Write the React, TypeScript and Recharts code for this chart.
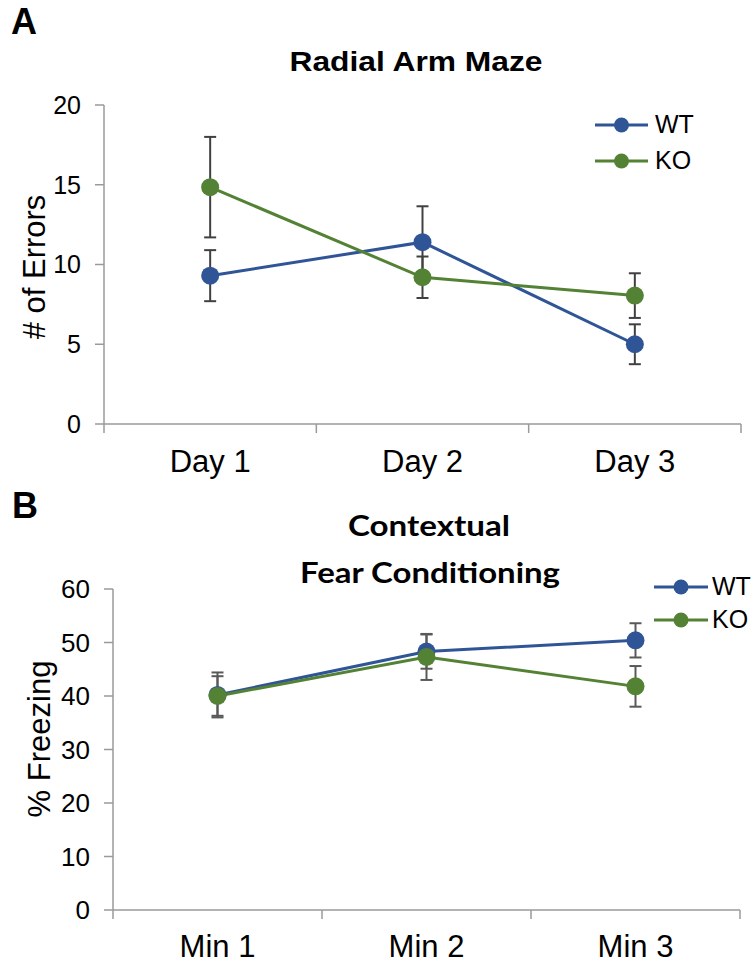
import React from 'react';
import { LineChart, Line, XAxis, YAxis, ErrorBar, Legend } from 'recharts';

// Radial arm maze: errors per day
const days = ['Day 1', 'Day 2', 'Day 3'];
const mazeWT = [9.3, 11.4, 5.0];
const mazeWTErr = [1.6, 2.25, 1.25];
const mazeKO = [14.85, 9.2, 8.05];
const mazeKOErr = [3.15, 1.3, 1.4];
const mazeTicks = [0, 5, 10, 15, 20];

// Contextual fear conditioning: % freezing per minute
const minutes = ['Min 1', 'Min 2', 'Min 3'];
const fearWT = [40.2, 48.3, 50.4];
const fearWTErr = [4.2, 3.2, 3.2];
const fearKO = [40.0, 47.3, 41.8];
const fearKOErr = [3.7, 4.3, 3.8];
const fearTicks = [0, 10, 20, 30, 40, 50, 60];

const seriesNames = ['WT', 'KO'];

const WT_COLOR = '#2F5597';
const KO_COLOR = '#548235';
const AXIS_COLOR = '#9a9a9a';
const FONT = '"Liberation Sans", Arial, sans-serif';
const TITLE_FONT_B = 'Lato, "Open Sans", sans-serif';

type Row = { pos: number; wt: number; wtErr: number; ko: number; koErr: number };

// Each category occupies one unit on a numeric axis; points sit at the middle.
function buildRows(cats: string[], wt: number[], wtErr: number[], ko: number[], koErr: number[]): Row[] {
  return cats.map((_, i) => ({ pos: i + 0.5, wt: wt[i], wtErr: wtErr[i], ko: ko[i], koErr: koErr[i] }));
}

// Boundary ticks (integers) carry tick marks, centre ticks (halves) carry the category names.
function categoryTicks(cats: string[]): number[] {
  const out: number[] = [];
  cats.forEach((_, i) => {
    out.push(i, i + 0.5);
  });
  out.push(cats.length);
  return out;
}

function makeCategoryTick(cats: string[], tickSize: number, tickMargin: number, fontSize: number) {
  return (props: any) => {
    const { x, y, payload } = props;
    const v = payload.value as number;
    if (Number.isInteger(v)) {
      const y0 = y - tickMargin - tickSize;
      return (
        <g>
          <line x1={x} x2={x} y1={y0} y2={y0 + tickSize} stroke={AXIS_COLOR} strokeWidth={1.5} />
        </g>
      );
    }
    return (
      <g>
        <text x={x} y={y} dy="0.71em" textAnchor="middle" fontSize={fontSize} fontFamily={FONT} fill="#000">
          {cats[Math.floor(v)]}
        </text>
      </g>
    );
  };
}

type LegendGeom = {
  left: number;
  top: number;
  lineX1: number;
  lineX2: number;
  rowY: number[];
  textX: number;
  textDy: number;
  r: number;
  fontSize: number;
};

function makeLegend(g: LegendGeom) {
  const colors = [WT_COLOR, KO_COLOR];
  return () => (
    <svg width={150} height={80} style={{ display: 'block', overflow: 'visible' }}>
      {seriesNames.map((name, i) => (
        <g key={name}>
          <line x1={g.lineX1} x2={g.lineX2} y1={g.rowY[i]} y2={g.rowY[i]} stroke={colors[i]} strokeWidth={3} />
          <circle cx={(g.lineX1 + g.lineX2) / 2} cy={g.rowY[i]} r={g.r} fill={colors[i]} />
          <text x={g.textX} y={g.rowY[i] + g.textDy} fontSize={g.fontSize} fontFamily={FONT} fill="#000">
            {name}
          </text>
        </g>
      ))}
    </svg>
  );
}

type PanelProps = {
  height: number;
  cats: string[];
  rows: Row[];
  yMax: number;
  yTicks: number[];
  margin: { top: number; right: number; bottom: number; left: number };
  yTickFont: number;
  xTickFont: number;
  xTickMargin: number;
  errColor: string;
  legend: LegendGeom;
};

function Panel(p: PanelProps) {
  const tickSize = 9;
  return (
    <LineChart width={756} height={p.height} data={p.rows} margin={p.margin}>
      <XAxis
        dataKey="pos"
        type="number"
        domain={[0, p.cats.length]}
        ticks={categoryTicks(p.cats)}
        interval={0}
        height={40}
        axisLine={{ stroke: AXIS_COLOR, strokeWidth: 1.5 }}
        tickLine={false}
        tickSize={tickSize}
        tickMargin={p.xTickMargin}
        tick={makeCategoryTick(p.cats, tickSize, p.xTickMargin, p.xTickFont)}
      />
      <YAxis
        type="number"
        domain={[0, p.yMax]}
        ticks={p.yTicks}
        interval={0}
        width={60}
        axisLine={{ stroke: AXIS_COLOR, strokeWidth: 1.5 }}
        tickLine={{ stroke: AXIS_COLOR, strokeWidth: 1.5 }}
        tickSize={tickSize}
        tickMargin={14}
        tick={{ fontSize: p.yTickFont, fontFamily: FONT, fill: '#000' }}
      />
      <Legend
        layout="vertical"
        align="center"
        verticalAlign="middle"
        content={makeLegend(p.legend)}
        wrapperStyle={{ left: p.legend.left, top: p.legend.top, width: 150, height: 80 }}
      />
      <Line
        dataKey="wt"
        name="WT"
        stroke={WT_COLOR}
        strokeWidth={3}
        dot={{ r: 9, fill: WT_COLOR, stroke: WT_COLOR, strokeWidth: 0 }}
        activeDot={false}
        isAnimationActive={false}
      >
        <ErrorBar dataKey="wtErr" direction="y" width={6} stroke={p.errColor} strokeWidth={2} />
      </Line>
      <Line
        dataKey="ko"
        name="KO"
        stroke={KO_COLOR}
        strokeWidth={3}
        dot={{ r: 9, fill: KO_COLOR, stroke: KO_COLOR, strokeWidth: 0 }}
        activeDot={false}
        isAnimationActive={false}
      >
        <ErrorBar dataKey="koErr" direction="y" width={6} stroke={p.errColor} strokeWidth={2} />
      </Line>
    </LineChart>
  );
}

export default function App() {
  const mazeRows = buildRows(days, mazeWT, mazeWTErr, mazeKO, mazeKOErr);
  const fearRows = buildRows(minutes, fearWT, fearWTErr, fearKO, fearKOErr);

  return (
    <div style={{ position: 'absolute', left: 0, top: 0, width: 756, height: 964, background: '#fff', overflow: 'hidden' }}>
      <div style={{ position: 'absolute', left: 0, top: 0 }}>
        <Panel
          height={480}
          cats={days}
          rows={mazeRows}
          yMax={20}
          yTicks={mazeTicks}
          margin={{ top: 105, right: 15, bottom: 16, left: 44 }}
          yTickFont={25}
          xTickFont={31}
          xTickMargin={17}
          errColor="#404040"
          legend={{ left: 590, top: 105, lineX1: 5, lineX2: 58, rowY: [20, 56], textX: 65, textDy: 8, r: 7.5, fontSize: 25 }}
        />
      </div>
      <div style={{ position: 'absolute', left: 0, top: 480 }}>
        <Panel
          height={484}
          cats={minutes}
          rows={fearRows}
          yMax={60}
          yTicks={fearTicks}
          margin={{ top: 109, right: 16, bottom: 14, left: 53 }}
          yTickFont={26}
          xTickFont={31}
          xTickMargin={16}
          errColor="#595959"
          legend={{ left: 650, top: 87, lineX1: 4, lineX2: 58, rowY: [20, 53], textX: 62, textDy: 8, r: 7.5, fontSize: 25 }}
        />
      </div>
      <svg width={756} height={964} style={{ position: 'absolute', left: 0, top: 0, pointerEvents: 'none' }}>
        <text x={11} y={34} fontSize={36} fontWeight="bold" fontFamily={FONT} fill="#000">A</text>
        <text x={416} y={71} textAnchor="middle" fontSize={28} fontWeight="bold" fontFamily={FONT} fill="#000" textLength={253} lengthAdjust="spacingAndGlyphs">
          Radial Arm Maze
        </text>
        <text transform="translate(45,267) rotate(-90)" textAnchor="middle" fontSize={31} fontFamily={FONT} fill="#000">
          # of Errors
        </text>
        <text x={12} y={518} fontSize={36} fontWeight="bold" fontFamily={FONT} fill="#000">B</text>
        <text x={429} y={536} textAnchor="middle" fontSize={29} fontWeight="bold" fontFamily={TITLE_FONT_B} fill="#000" textLength={162} lengthAdjust="spacingAndGlyphs">
          Contextual
        </text>
        <text x={430} y={583} textAnchor="middle" fontSize={29} fontWeight="bold" fontFamily={TITLE_FONT_B} fill="#000" textLength={260} lengthAdjust="spacingAndGlyphs">
          Fear Conditioning
        </text>
        <text transform="translate(50,739) rotate(-90)" textAnchor="middle" fontSize={31} fontFamily={FONT} fill="#000">
          % Freezing
        </text>
      </svg>
    </div>
  );
}
